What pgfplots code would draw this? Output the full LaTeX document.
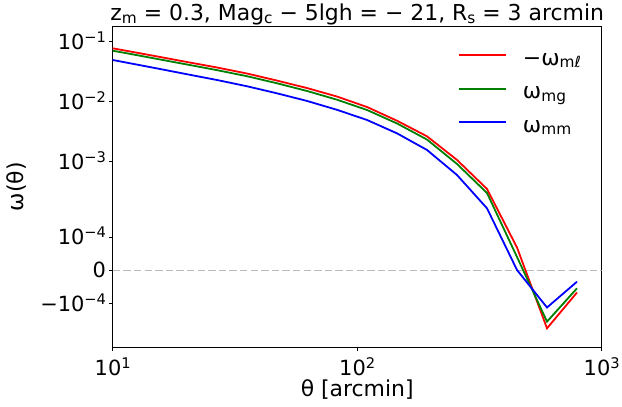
\documentclass[border=0pt]{standalone}
\usepackage{fontspec}
\setmainfont{DejaVu Sans}
\usepackage{pgfplots}
\pgfplotsset{compat=1.18}

\pgfplotstableread{
x      red        green      blue
8.63   0.0865     0.0789     0.0556
11.44  0.0703     0.0641     0.0447
15.18  0.0569     0.0517     0.0359
20.14  0.0459     0.0417     0.0287
26.71  0.0372     0.0336     0.0230
35.43  0.0295     0.0266     0.0181
46.99  0.0225     0.0203     0.0138
62.33  0.0169     0.0151     0.0103
82.68  0.0122     0.0108     0.00733
109.7  0.00816    0.00728    0.00496
145.5  0.00482    0.00434    0.00297
193.0  0.00265    0.00234    0.00157
256.0  0.00107    0.000916   0.000600
339.6  0.000351   0.000301   0.000186
450.4  0.0000684  0.0000400  0.000001
597.5  -0.000174  -0.000154  -0.0001116
792.5  -0.0000666 -0.0000540 -0.0000342
}\datatable

\newcommand{\tickfont}{\fontsize{21}{25}\selectfont}
\newcommand{\bigfont}{\fontsize{22}{26}\selectfont}
\newcommand{\sups}[1]{\raisebox{0.33em}{\fontsize{14.7}{17}\selectfont #1}}
\newcommand{\subs}[1]{\raisebox{-0.12em}{\fontsize{15.4}{18}\selectfont #1}}

\begin{document}
\begin{tikzpicture}
\begin{axis}[
  scale only axis,
  width=489bp, height=320.3bp,
  xmode=log, log basis x=10,
  xmin=10, xmax=1000,
  ymin=-0.000294, ymax=0.178,
  y coord trafo/.code={%
    \begingroup
    \pgfkeys{/pgf/fpu=true,/pgf/fpu/output format=fixed}%
    \pgfmathparse{abs(#1) <= 0.0002 ? (#1)*5555.55 : ((#1) > 0 ? 1.11111+ln(abs(#1)*5000)*0.4342945 : -1.11111-ln(abs(#1)*5000)*0.4342945)}%
    \pgfmathsmuggle\pgfmathresult
    \endgroup
  },
  y coord inv trafo/.code={%
    \begingroup
    \pgfkeys{/pgf/fpu=true,/pgf/fpu/output format=sci}%
    \pgfmathparse{abs(#1) <= 1.11111 ? (#1)*0.00018 : ((#1) > 0 ? 0.0002*exp(((#1)-1.11111)*2.302585) : -0.0002*exp((-(#1)-1.11111)*2.302585))}%
    \pgfmathsmuggle\pgfmathresult
    \endgroup
  },
  xtick={10,100,1000},
  xticklabels={10\sups{1},10\sups{2},10\sups{3}},
  ytick={-0.0001,0,0.0001,0.001,0.01,0.1},
  yticklabels={−10\sups{−4},0,10\sups{−4},10\sups{−3},10\sups{−2},10\sups{−1}},
  xminorticks=false, yminorticks=false,
  tick align=outside, xtick pos=bottom, ytick pos=left,
  major tick length=3.5bp,
  every tick/.style={black, line width=0.8bp},
  axis line style={line width=0.8bp},
  tick label style={font=\tickfont},
  xticklabel style={anchor=base, inner sep=0pt, yshift=-25bp},
  yticklabel style={anchor=base east, inner sep=0pt, xshift=-3bp, yshift=-7.6bp},
  xlabel={θ [arcmin]},
  ylabel={ω(θ)},
  label style={font=\bigfont},
  xlabel style={at={(axis description cs:0.5,0)}, anchor=base, inner sep=0pt, yshift=-49bp},
  ylabel style={at={(axis description cs:-0.1957,0.5)}, anchor=center, inner sep=0pt, rotate=0},
  every axis title shift=0pt,
  title={z\subs{m} = 0.3, Mag\subs{c} − 5lgh = − 21, R\subs{s} = 3 arcmin},
  title style={at={(axis description cs:0.5,1)}, anchor=base, inner sep=0pt, yshift=6bp, font=\bigfont},
  legend style={at={(axis description cs:0.7061,0.9273)}, anchor=north west,
    draw=none, fill=none, inner sep=0pt, row sep=12.5bp, column sep=16bp,
    font=\bigfont, nodes={inner sep=0pt, text height=15bp, text depth=6bp}},
  legend cell align=left,
  legend image code/.code={\draw[#1] (0bp,5.5bp) -- (47bp,5.5bp);},
]
\addplot[forget plot, color=black!27, line width=1.5bp, dash pattern=on 7.4bp off 3.2bp] coordinates {(10,0) (1000,0)};
\addplot[color=red, line width=1.8bp] table[x=x, y=red] {\datatable};
\addlegendentry{−ω\subs{mℓ}}
\addplot[color=green!50!black, line width=1.8bp] table[x=x, y=green] {\datatable};
\addlegendentry{ω\subs{mg}}
\addplot[color=blue, line width=1.8bp] table[x=x, y=blue] {\datatable};
\addlegendentry{ω\subs{mm}}
\end{axis}
\pgfresetboundingbox
\path[use as bounding box] ([shift={(-112.7bp,-60bp)}]current axis.south west) rectangle ([shift={(20.3bp,26.7bp)}]current axis.north east);
\end{tikzpicture}
\end{document}
